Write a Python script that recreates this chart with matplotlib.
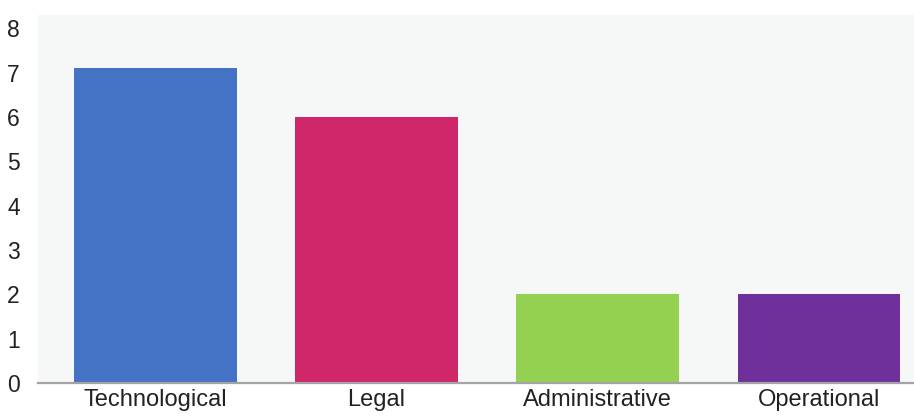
import matplotlib
matplotlib.use('Agg')
import matplotlib.pyplot as plt

# data
categories = ['Technological', 'Legal', 'Administrative', 'Operational']
values = [7.1, 6.0, 2.0, 2.0]
colors = ['#4472C4', '#D0266A', '#95D151', '#70309C']
yticks = [0, 1, 2, 3, 4, 5, 6, 7, 8]

plt.rcParams['font.family'] = ['Liberation Sans', 'DejaVu Sans']

fig = plt.figure(figsize=(9.14, 4.16), dpi=100)
ax = fig.add_axes([38/914, 33/416, 876/914, 368/416])
ax.set_facecolor('#F6F8F8')

x = list(range(len(categories)))
ax.bar(x, values, width=0.735, color=colors, zorder=2)

ax.set_xlim(-0.53, 3.43)
ax.set_ylim(0, 8.3)
ax.set_yticks(yticks)
ax.set_xticks(x)
ax.set_xticklabels(categories)

for s in ['top', 'right', 'left']:
    ax.spines[s].set_visible(False)
ax.spines['bottom'].set_color('#A3A3A8')
ax.spines['bottom'].set_linewidth(1.6)
ax.spines['bottom'].set_zorder(3)

ax.tick_params(axis='y', length=0, pad=13, labelsize=16.5, labelcolor='#222222')
ax.tick_params(axis='x', length=0, pad=4, labelsize=17, labelcolor='#222222')

fig.savefig('out.png', dpi=100, facecolor='white')
